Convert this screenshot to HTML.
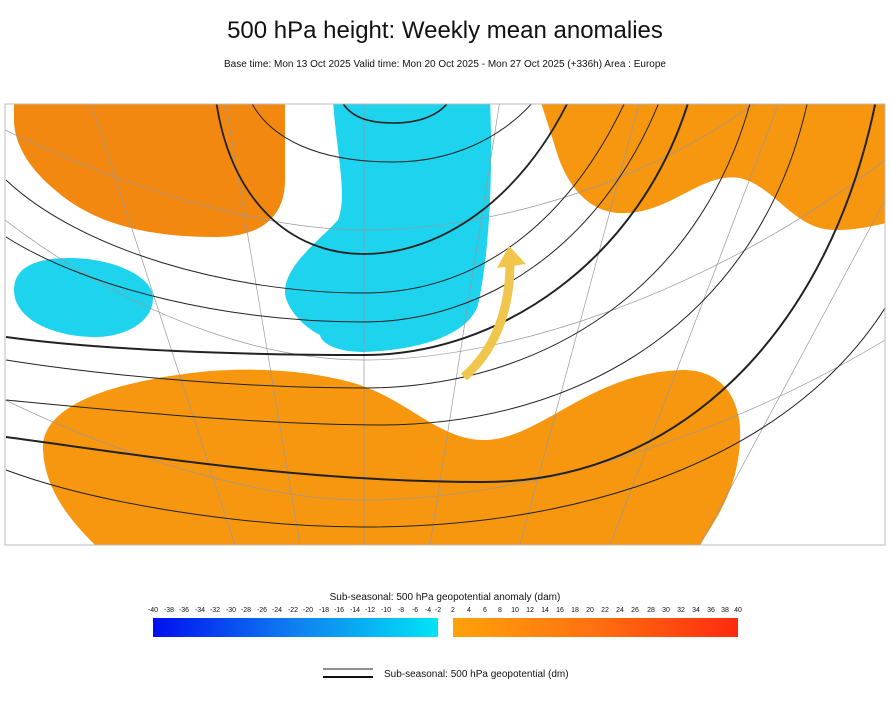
<!DOCTYPE html>
<html><head><meta charset="utf-8"><style>
body{margin:0;background:#fff;width:891px;height:711px;overflow:hidden;font-family:"Liberation Sans",sans-serif}
</style></head><body>
<svg width="891" height="711" viewBox="0 0 891 711" xmlns="http://www.w3.org/2000/svg" font-family="Liberation Sans, sans-serif">
<defs>
<linearGradient id="gb" x1="0" x2="1"><stop offset="0" stop-color="#0010f0"/><stop offset="0.5" stop-color="#1080f0"/><stop offset="1" stop-color="#00e4f4"/></linearGradient>
<linearGradient id="go" x1="0" x2="1"><stop offset="0" stop-color="#ffa20a"/><stop offset="0.5" stop-color="#ff7010"/><stop offset="1" stop-color="#ff2a10"/></linearGradient>
<clipPath id="m"><rect x="5" y="104" width="880" height="441"/></clipPath>
</defs>
<text x="445" y="38" font-size="24" text-anchor="middle" fill="#111">500 hPa height: Weekly mean anomalies</text>
<text x="445" y="67" font-size="10" text-anchor="middle" fill="#111">Base time: Mon 13 Oct 2025 Valid time: Mon 20 Oct 2025 - Mon 27 Oct 2025 (+336h) Area : Europe</text>
<g clip-path="url(#m)">
<rect x="5" y="104" width="880" height="441" fill="#fff"/>
<!-- orange top-left -->
<path d="M14,100 L285,100 L285,180 C285,225 250,237 216,237 C150,237 95,225 55,190 C25,165 14,140 14,120 Z" fill="#f2880f"/>
<!-- orange top-right -->
<path d="M540,100 L890,100 L890,222 C860,230 835,232 820,228 C790,220 770,185 740,178 C700,172 670,215 620,213 C585,212 565,180 556,150 C550,130 545,115 540,100 Z" fill="#f7960f"/>
<!-- orange bottom -->
<path d="M43,450 C40,400 130,380 200,372 C260,366 320,372 360,385 C410,402 440,440 484,440 C540,440 590,372 683,370 C730,370 742,410 740,440 C738,490 715,520 700,545 L95,545 C70,520 45,490 43,450 Z" fill="#f7960f"/>
<!-- cyan main -->
<path d="M333,100 L490,100 C493,170 490,250 478,305 C468,335 420,350 364,352 C340,352 322,345 320,335 C300,325 285,305 285,292 C285,265 320,240 338,220 C348,195 336,150 333,100 Z" fill="#1dd3ee"/>
<!-- cyan small -->
<path d="M14,290 C14,265 40,258 70,258 C110,258 153,275 153,298 C153,322 125,337 95,337 C55,337 14,320 14,290 Z" fill="#1dd3ee"/>
<!-- meridians/parallels -->
<g stroke="#999" stroke-width="0.7" fill="none">
<path d="M364,100 L364,545"/><path d="M225,100 L300,545"/><path d="M90,100 L235,545"/><path d="M500,100 L430,545"/>
<path d="M640,100 L520,545"/><path d="M780,100 L610,545"/><path d="M885,200 L700,545"/>
<path d="M5,220 C150,330 280,360 364,360 C500,360 700,300 885,160"/>
<path d="M5,400 C150,470 280,500 364,500 C520,500 720,440 885,340"/>
<path d="M5,130 C150,200 280,230 364,230 C500,230 650,180 760,100"/>
</g>
<g fill="none" stroke="#222">
<path d="M341,100 C350,118 370,123 393,123 C420,123 440,115 450,100" stroke-width="1.6"/>
<path d="M250,100 C270,140 320,162 393,162 C450,162 500,140 535,100" stroke-width="1"/>
<path d="M216,100 C230,200 290,254 364,254 C440,254 520,200 569,100" stroke-width="1.8"/>
<path d="M6,180 C80,250 230,293 364,293 C480,293 570,220 626,100" stroke-width="1"/>
<path d="M6,237 C90,290 230,322 364,322 C480,322 600,250 660,100" stroke-width="1"/>
<path d="M6,337 C100,350 240,355 364,355 C500,355 640,260 689,100" stroke-width="2"/>
<path d="M6,360 C100,375 240,388 364,388 C540,388 700,290 751,100" stroke-width="1"/>
<path d="M6,400 C110,410 260,425 380,425 C580,425 760,320 808,100" stroke-width="1"/>
<path d="M6,437 C140,455 300,482 484,482 C680,482 830,330 876,100" stroke-width="2"/>
<path d="M6,470 C100,505 250,527 364,527 C600,527 800,450 890,300" stroke-width="1"/>
</g>
<!-- arrow -->
<path d="M464,377 C495,350 510,310 510,262" stroke="#f0c64c" stroke-width="9" fill="none"/>
<path d="M497,268 L509,246 L526,264 Z" fill="#f0c64c"/>
</g>
<rect x="5" y="104" width="880" height="441" fill="none" stroke="#bbb" stroke-width="1"/>
<text x="445" y="600" font-size="10" text-anchor="middle" fill="#111">Sub-seasonal: 500 hPa geopotential anomaly (dam)</text>
<g font-size="7" fill="#111" text-anchor="middle">
<text x="153" y="612">-40</text><text x="169" y="612">-38</text><text x="184" y="612">-36</text><text x="200" y="612">-34</text><text x="215" y="612">-32</text><text x="231" y="612">-30</text><text x="246" y="612">-28</text><text x="262" y="612">-26</text><text x="277" y="612">-24</text><text x="293" y="612">-22</text><text x="308" y="612">-20</text><text x="324" y="612">-18</text><text x="339" y="612">-16</text><text x="355" y="612">-14</text><text x="370" y="612">-12</text><text x="386" y="612">-10</text><text x="401" y="612">-8</text><text x="415" y="612">-6</text><text x="428" y="612">-4</text><text x="438" y="612">-2</text>
<text x="453" y="612">2</text><text x="469" y="612">4</text><text x="485" y="612">6</text><text x="500" y="612">8</text><text x="515" y="612">10</text><text x="530" y="612">12</text><text x="545" y="612">14</text><text x="560" y="612">16</text><text x="575" y="612">18</text><text x="590" y="612">20</text><text x="605" y="612">22</text><text x="620" y="612">24</text><text x="635" y="612">26</text><text x="651" y="612">28</text><text x="666" y="612">30</text><text x="681" y="612">32</text><text x="696" y="612">34</text><text x="711" y="612">36</text><text x="725" y="612">38</text><text x="738" y="612">40</text>
</g>
<rect x="153" y="618" width="285" height="19" fill="url(#gb)"/>
<rect x="453" y="618" width="285" height="19" fill="url(#go)"/>
<line x1="323" y1="669" x2="373" y2="669" stroke="#222" stroke-width="1"/>
<line x1="323" y1="677" x2="373" y2="677" stroke="#111" stroke-width="2"/>
<text x="384" y="677" font-size="10" fill="#111">Sub-seasonal: 500 hPa geopotential (dm)</text>
</svg>
</body></html>
